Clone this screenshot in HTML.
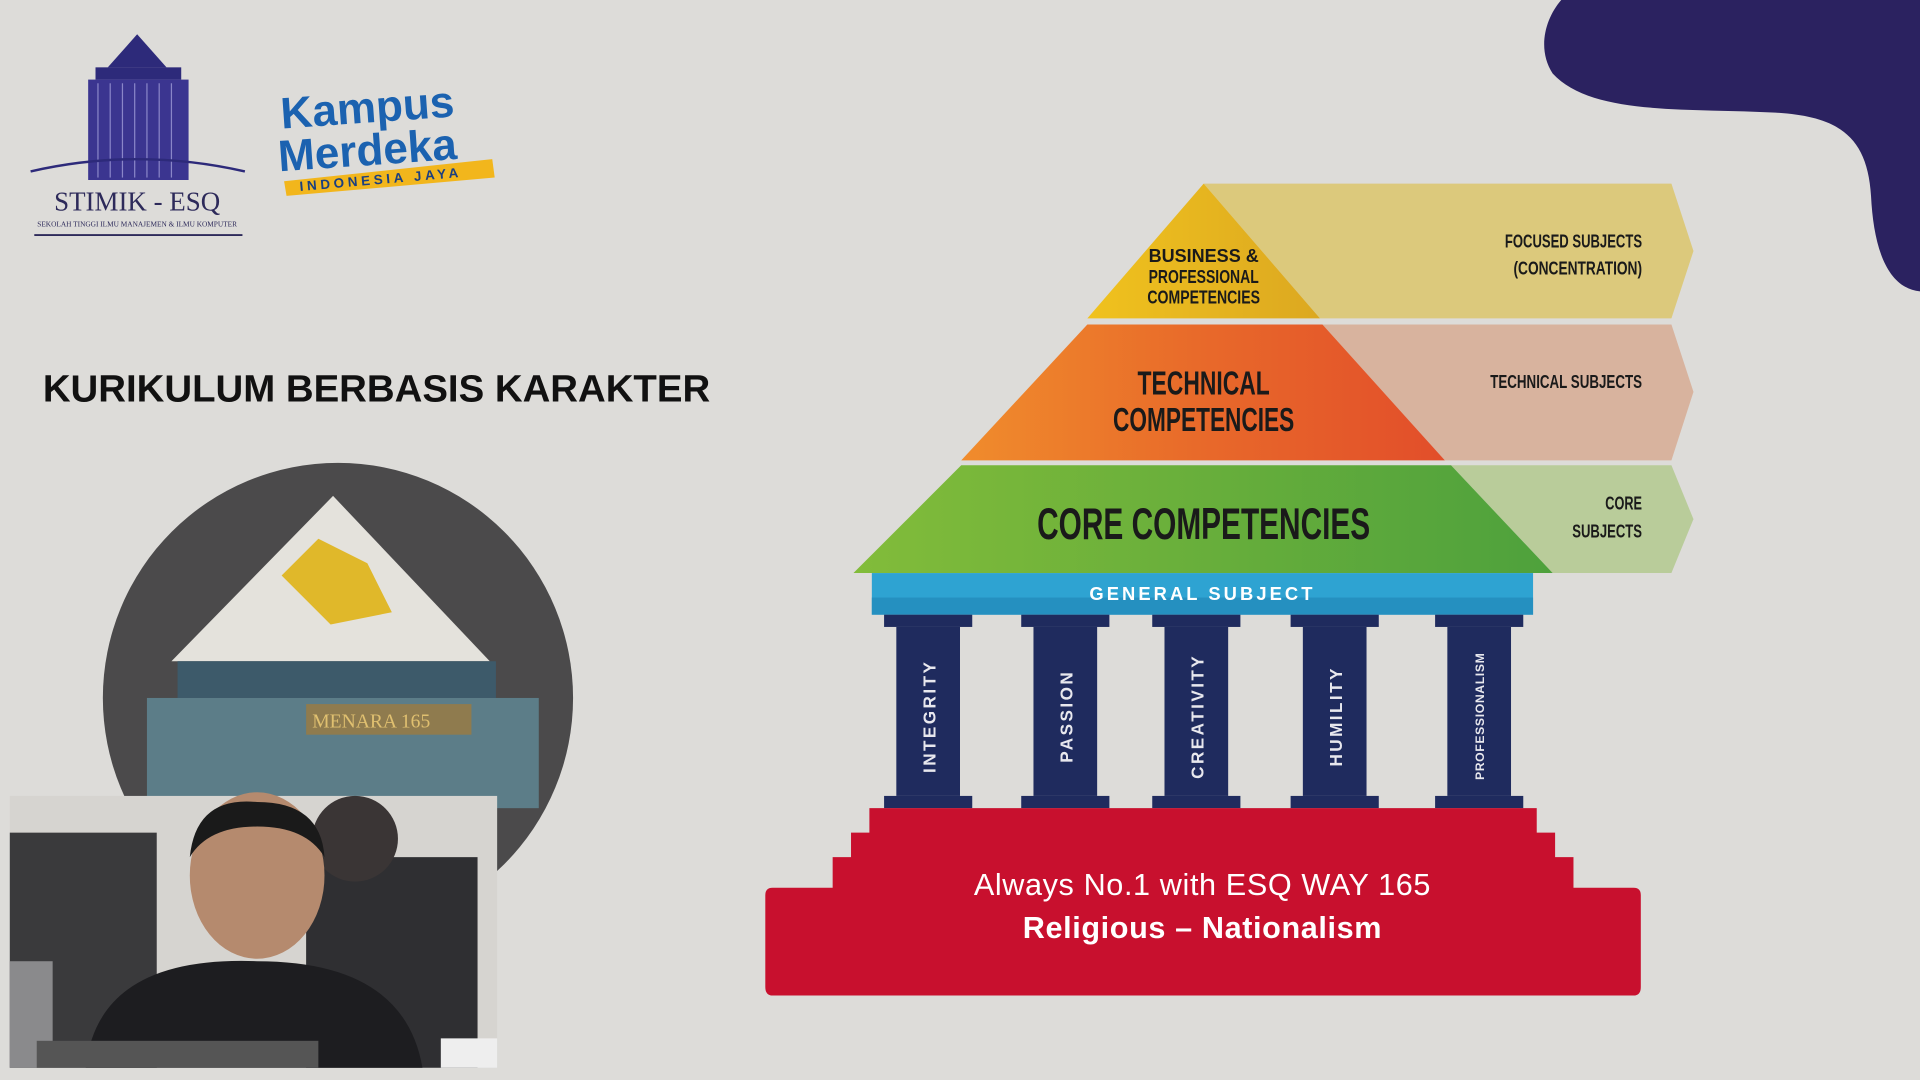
<!DOCTYPE html>
<html><head><meta charset="utf-8"><style>
html,body{margin:0;padding:0;width:1920px;height:1080px;overflow:hidden;background:#dddcd9;}
svg{display:block}
.n{font-family:"Liberation Sans",sans-serif;font-weight:bold;fill:#1a1a1a}
</style></head><body>
<svg width="1920" height="1080" viewBox="0 0 1568 882" xmlns="http://www.w3.org/2000/svg">
<rect width="1568" height="882" fill="#dddcd9"/>
<path d="M1275 0 H1568 V238 C1540 235 1530 200 1528 160 C1525 110 1500 95 1450 92 C1380 88 1300 95 1268 60 C1255 40 1262 15 1275 0Z" fill="#2b2260"/>
<polygon points="112,28 88,55 136,55" fill="#2d2a7a"/>
<rect x="78" y="55" width="70" height="10" fill="#2d2a7a"/>
<rect x="72" y="65" width="82" height="82" fill="#3b3590"/>
<g stroke="#8a86c8" stroke-width="1">
<line x1="80" y1="68" x2="80" y2="145"/><line x1="90" y1="68" x2="90" y2="145"/><line x1="100" y1="68" x2="100" y2="145"/><line x1="110" y1="68" x2="110" y2="145"/><line x1="120" y1="68" x2="120" y2="145"/><line x1="130" y1="68" x2="130" y2="145"/><line x1="140" y1="68" x2="140" y2="145"/>
</g>
<path d="M25 140 Q112 120 200 140" stroke="#2d2a7a" stroke-width="2" fill="none"/>
<text x="112" y="172" text-anchor="middle" font-family="Liberation Serif,serif" font-size="22" fill="#2d2a5a">STIMIK - ESQ</text>
<text x="112" y="185" text-anchor="middle" font-family="Liberation Serif,serif" font-size="6" fill="#2d2a5a">SEKOLAH TINGGI ILMU MANAJEMEN &amp; ILMU KOMPUTER</text>
<line x1="28" y1="192" x2="198" y2="192" stroke="#2d2a5a" stroke-width="1.5"/>
<text x="230" y="105" font-family="Liberation Sans,sans-serif" font-weight="bold" font-size="36" fill="#1b62b0" transform="rotate(-4 230 105)">Kampus</text>
<text x="228" y="140" font-family="Liberation Sans,sans-serif" font-weight="bold" font-size="36" fill="#1b62b0" transform="rotate(-4 228 140)">Merdeka</text>
<polygon points="232,148 402,130 404,145 234,160" fill="#f2b61c"/>
<text x="245" y="156" font-family="Liberation Sans,sans-serif" font-weight="bold" font-size="11" fill="#1b3f80" letter-spacing="3" transform="rotate(-5 245 156)">INDONESIA JAYA</text>
<text x="35" y="328" font-family="Liberation Sans,sans-serif" font-weight="bold" font-size="31" fill="#111" textLength="545" lengthAdjust="spacingAndGlyphs">KURIKULUM BERBASIS KARAKTER</text>
<circle cx="276" cy="570" r="192" fill="#4b4a4b"/>
<polygon points="272,405 140,540 400,540" fill="#e4e2dc"/>
<path d="M230 470 L260 440 L300 460 L320 500 L270 510 Z" fill="#e0b82a"/>
<rect x="145" y="540" width="260" height="30" fill="#3d5a6a"/>
<rect x="120" y="570" width="320" height="90" fill="#5c7d88"/>
<rect x="250" y="575" width="135" height="25" fill="#8f7b4e"/>
<text x="255" y="594" font-family="Liberation Serif,serif" font-size="16" fill="#e0c070">MENARA 165</text>
<rect x="8" y="650" width="398" height="222" fill="#d6d4d0"/>
<rect x="8" y="680" width="120" height="192" fill="#3a3a3c"/>
<rect x="250" y="700" width="140" height="172" fill="#2f2f32"/>
<circle cx="290" cy="685" r="35" fill="#3a3535"/>
<ellipse cx="210" cy="715" rx="55" ry="68" fill="#b58a6e"/>
<path d="M155 700 Q160 650 210 655 Q262 655 265 700 Q250 675 210 675 Q170 675 155 700Z" fill="#1a1a1a"/>
<path d="M70 872 Q80 780 210 785 Q330 785 345 872Z" fill="#1d1d20"/>
<rect x="8" y="785" width="35" height="87" fill="#8a8a8c"/>
<rect x="30" y="850" width="230" height="22" fill="#555"/>
<rect x="360" y="848" width="46" height="24" fill="#eee"/>
<polygon points="983,150 1365,150 1383,205 1365,260 1078,260" fill="#dcc97c"/>
<polygon points="1080,265 1365,265 1383,320 1365,376 1180,376" fill="#d8b39e"/>
<polygon points="1185,380 1365,380 1383,424 1365,468 1268,468" fill="#b9cc9a"/>
<defs>
<linearGradient id="o" x1="0" x2="1"><stop offset="0" stop-color="#f08c2c"/><stop offset="0.5" stop-color="#e8692a"/><stop offset="1" stop-color="#e24e2a"/></linearGradient>
<linearGradient id="g" x1="0" x2="1"><stop offset="0" stop-color="#82bc3a"/><stop offset="1" stop-color="#4ea13c"/></linearGradient>
<linearGradient id="y" x1="0" x2="1"><stop offset="0" stop-color="#f0c21e"/><stop offset="1" stop-color="#dca820"/></linearGradient>
</defs>
<polygon points="983,150 1078,260 888,260" fill="url(#y)"/>
<polygon points="888,265 1080,265 1180,376 785,376" fill="url(#o)"/>
<polygon points="785,380 1185,380 1268,468 697,468" fill="url(#g)"/>
<g lengthAdjust="spacingAndGlyphs">
<text class="n" x="983" y="214" text-anchor="middle" font-size="15" textLength="90" lengthAdjust="spacingAndGlyphs">BUSINESS &amp;</text>
<text class="n" x="983" y="231" text-anchor="middle" font-size="15" textLength="90" lengthAdjust="spacingAndGlyphs">PROFESSIONAL</text>
<text class="n" x="983" y="248" text-anchor="middle" font-size="15" textLength="92" lengthAdjust="spacingAndGlyphs">COMPETENCIES</text>
<text class="n" x="983" y="322" text-anchor="middle" font-size="27" textLength="108" lengthAdjust="spacingAndGlyphs">TECHNICAL</text>
<text class="n" x="983" y="352" text-anchor="middle" font-size="27" textLength="148" lengthAdjust="spacingAndGlyphs">COMPETENCIES</text>
<text class="n" x="983" y="440" text-anchor="middle" font-size="36" textLength="272" lengthAdjust="spacingAndGlyphs">CORE COMPETENCIES</text>
<text class="n" x="1341" y="202" text-anchor="end" font-size="15" textLength="112" lengthAdjust="spacingAndGlyphs">FOCUSED SUBJECTS</text>
<text class="n" x="1341" y="224" text-anchor="end" font-size="15" textLength="105" lengthAdjust="spacingAndGlyphs">(CONCENTRATION)</text>
<text class="n" x="1341" y="317" text-anchor="end" font-size="15" textLength="124" lengthAdjust="spacingAndGlyphs">TECHNICAL SUBJECTS</text>
<text class="n" x="1341" y="416" text-anchor="end" font-size="15" textLength="30" lengthAdjust="spacingAndGlyphs">CORE</text>
<text class="n" x="1341" y="439" text-anchor="end" font-size="15" textLength="57" lengthAdjust="spacingAndGlyphs">SUBJECTS</text>
</g>
<rect x="712" y="468" width="540" height="34" fill="#2ea3d2"/>
<rect x="712" y="488" width="540" height="14" fill="#2590c0"/>
<text x="982" y="490" text-anchor="middle" font-family="Liberation Sans,sans-serif" font-weight="bold" font-size="15" fill="#fff" letter-spacing="2.5">GENERAL SUBJECT</text>
<g fill="#1f2b5e">
<g transform="translate(758 0)"><rect x="-36" y="502" width="72" height="10"/><rect x="-26" y="512" width="52" height="138"/><rect x="-36" y="650" width="72" height="10"/></g>
<g transform="translate(870 0)"><rect x="-36" y="502" width="72" height="10"/><rect x="-26" y="512" width="52" height="138"/><rect x="-36" y="650" width="72" height="10"/></g>
<g transform="translate(977 0)"><rect x="-36" y="502" width="72" height="10"/><rect x="-26" y="512" width="52" height="138"/><rect x="-36" y="650" width="72" height="10"/></g>
<g transform="translate(1090 0)"><rect x="-36" y="502" width="72" height="10"/><rect x="-26" y="512" width="52" height="138"/><rect x="-36" y="650" width="72" height="10"/></g>
<g transform="translate(1208 0)"><rect x="-36" y="502" width="72" height="10"/><rect x="-26" y="512" width="52" height="138"/><rect x="-36" y="650" width="72" height="10"/></g>
</g>
<g font-family="Liberation Sans,sans-serif" font-weight="bold" fill="#e8e8ee" text-anchor="middle">
<text transform="translate(764 585) rotate(-90)" font-size="14" letter-spacing="2">INTEGRITY</text>
<text transform="translate(876 585) rotate(-90)" font-size="14" letter-spacing="2">PASSION</text>
<text transform="translate(983 585) rotate(-90)" font-size="14" letter-spacing="2">CREATIVITY</text>
<text transform="translate(1096 585) rotate(-90)" font-size="14" letter-spacing="2">HUMILITY</text>
<text transform="translate(1212 585) rotate(-90)" font-size="10" letter-spacing="0.5">PROFESSIONALISM</text>
</g>
<path d="M710 660 H1255 V680 H1270 V700 H1285 V725 H1334 Q1340 725 1340 731 V806 Q1340 813 1334 813 H631 Q625 813 625 806 V731 Q625 725 631 725 H680 V700 H695 V680 H710Z" fill="#c8102e"/>
<text x="982" y="731" text-anchor="middle" font-family="Liberation Sans,sans-serif" font-size="25" fill="#fff" letter-spacing="0.5">Always No.1 with ESQ WAY 165</text>
<text x="982" y="766" text-anchor="middle" font-family="Liberation Sans,sans-serif" font-weight="bold" font-size="25" fill="#fff" letter-spacing="0.5">Religious – Nationalism</text>
</svg>
</body></html>
